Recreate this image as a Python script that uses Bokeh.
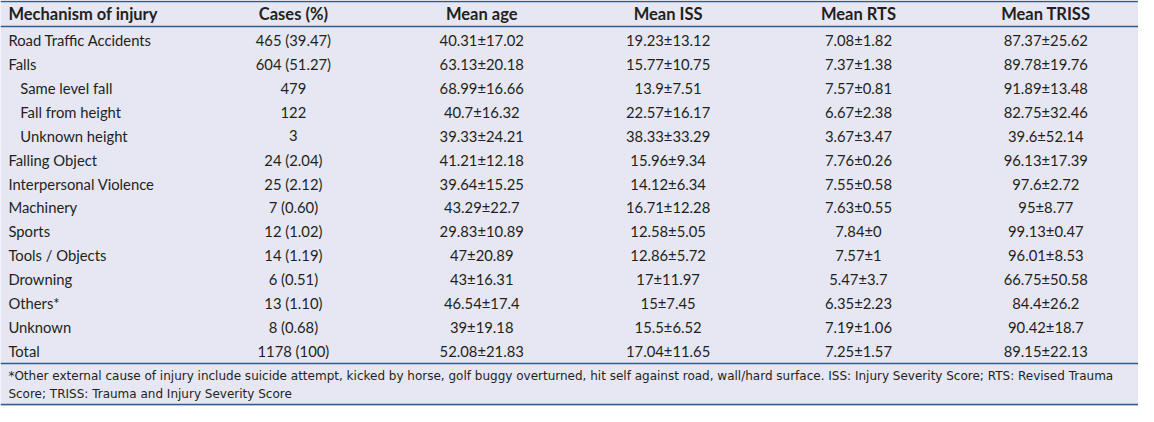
from bokeh.plotting import figure
from bokeh.models import ColumnDataSource, Range1d
from bokeh.core.properties import value
from bokeh.embed import file_html
from bokeh.resources import INLINE

headers = ["Mechanism of injury", "Cases (%)", "Mean age", "Mean ISS", "Mean RTS", "Mean TRISS"]
mechanism = ["Road Traffic Accidents", "Falls", "Same level fall", "Fall from height", "Unknown height",
             "Falling Object", "Interpersonal Violence", "Machinery", "Sports", "Tools / Objects",
             "Drowning", "Others*", "Unknown", "Total"]
indent = [0, 0, 1, 1, 1, 0, 0, 0, 0, 0, 0, 0, 0, 0]
cases = ["465 (39.47)", "604 (51.27)", "479", "122", "3", "24 (2.04)", "25 (2.12)", "7 (0.60)",
         "12 (1.02)", "14 (1.19)", "6 (0.51)", "13 (1.10)", "8 (0.68)", "1178 (100)"]
mean_age = ["40.31±17.02", "63.13±20.18", "68.99±16.66", "40.7±16.32", "39.33±24.21", "41.21±12.18",
            "39.64±15.25", "43.29±22.7", "29.83±10.89", "47±20.89", "43±16.31", "46.54±17.4",
            "39±19.18", "52.08±21.83"]
mean_iss = ["19.23±13.12", "15.77±10.75", "13.9±7.51", "22.57±16.17", "38.33±33.29", "15.96±9.34",
            "14.12±6.34", "16.71±12.28", "12.58±5.05", "12.86±5.72", "17±11.97", "15±7.45",
            "15.5±6.52", "17.04±11.65"]
mean_rts = ["7.08±1.82", "7.37±1.38", "7.57±0.81", "6.67±2.38", "3.67±3.47", "7.76±0.26", "7.55±0.58",
            "7.63±0.55", "7.84±0", "7.57±1", "5.47±3.7", "6.35±2.23", "7.19±1.06", "7.25±1.57"]
mean_triss = ["87.37±25.62", "89.78±19.76", "91.89±13.48", "82.75±32.46", "39.6±52.14", "96.13±17.39",
              "97.6±2.72", "95±8.77", "99.13±0.47", "96.01±8.53", "66.75±50.58", "84.4±26.2",
              "90.42±18.7", "89.15±22.13"]
footnote = [
    "*Other external cause of injury include suicide attempt, kicked by horse, golf buggy overturned, "
    "hit self against road, wall/hard surface. ISS: Injury Severity Score; RTS: Revised Trauma",
    "Score; TRISS: Trauma and Injury Severity Score",
]

# layout (in reference pixel units)
W, H = 1154, 422
col_x = [8, 297, 488, 677, 870, 1060]
header_y = 14.5
row0_y = 41.5
row_h = 24.8
foot_y = [390, 409]
rule_y = [1, 27, 377, 420]

BG = "#E6E7F3"
RULE = "#2F5E8C"
TXT = "#231F20"
FONT = value("Lato")

p = figure(width=1138, height=406, output_backend="svg", toolbar_location=None,
           x_range=Range1d(0, W), y_range=Range1d(H, 0), min_border=0)
p.axis.visible = False
p.grid.visible = False
p.outline_line_color = None
p.background_fill_color = BG
p.border_fill_color = BG

p.hspan(y=rule_y, line_color=RULE, line_width=1.5)

# header
hsrc = ColumnDataSource(dict(x=col_x, y=[header_y] * 6, t=headers,
                             a=["left"] + ["center"] * 5))
p.text(x="x", y="y", text="t", text_align="a", source=hsrc, text_baseline="middle",
       text_font=FONT, text_font_style="bold", text_font_size="16.5px", text_color=TXT)

rows_y = [row0_y + i * row_h for i in range(len(mechanism))]
msrc = ColumnDataSource(dict(x=[col_x[0] + 12 * k for k in indent], y=rows_y, t=mechanism))
p.text(x="x", y="y", text="t", source=msrc, text_align="left", text_baseline="middle",
       text_font=FONT, text_font_size="14.8px", text_color=TXT)

for cx, col in zip(col_x[1:], [cases, mean_age, mean_iss, mean_rts, mean_triss]):
    src = ColumnDataSource(dict(x=[cx] * len(col), y=rows_y, t=col))
    p.text(x="x", y="y", text="t", source=src, text_align="center", text_baseline="middle",
           text_font=FONT, text_font_size="14.8px", text_color=TXT)

fsrc = ColumnDataSource(dict(x=[col_x[0]] * 2, y=foot_y, t=footnote))
p.text(x="x", y="y", text="t", source=fsrc, text_align="left", text_baseline="middle",
       text_font=value("DejaVu Sans"), text_font_size="12px", text_color=TXT)

open("out.html", "w").write(file_html(p, INLINE))
